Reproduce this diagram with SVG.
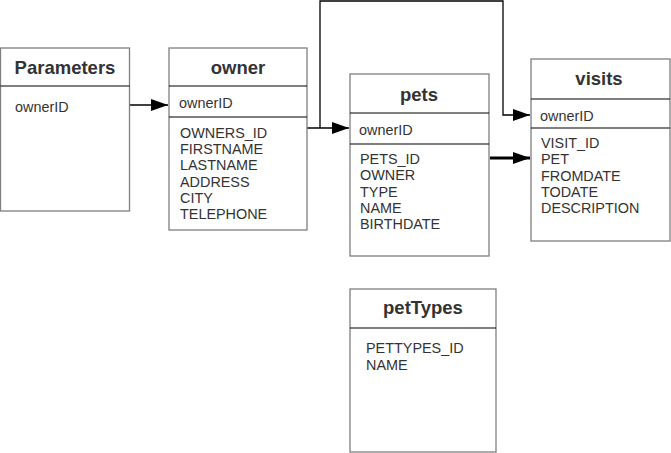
<svg xmlns="http://www.w3.org/2000/svg" width="671" height="453" viewBox="0 0 671 453">
<style>
.box{fill:#fff;stroke:#7f7f7f;stroke-width:1.3}
.div{stroke:#000;stroke-width:1.2}
.title{font-family:"Liberation Sans",Arial,sans-serif;font-size:18.5px;font-weight:bold;fill:#333;text-anchor:middle}
.f{font-family:"Liberation Sans",Arial,sans-serif;font-size:14.4px;fill:#333}
.c{fill:none;stroke:#000;stroke-width:1.3}
.ct{fill:none;stroke:#000;stroke-width:3}
</style>
<defs>
<marker id="ah" markerWidth="17" markerHeight="12" refX="17" refY="6" orient="auto" markerUnits="userSpaceOnUse">
<path d="M0,0 L17,6 L0,12 z" fill="#000"/>
</marker>
</defs>
<rect width="671" height="453" fill="#fff"/>
<g id="connectors">
<path class="c" d="M130,105 H168" marker-end="url(#ah)"/>
<path class="c" d="M307,128 H349" marker-end="url(#ah)"/>
<path class="c" d="M320,128 V1 H503 V115 H530" marker-end="url(#ah)"/>
<path class="ct" d="M490,158 H530" marker-end="url(#ah)"/>
</g>
<g id="Parameters">
<rect class="box" x="0.5" y="48" width="129" height="163"/>
<line class="div" x1="0.5" y1="86" x2="129.5" y2="86"/>
<text class="title" x="65" y="74">Parameters</text>
<text class="f" x="15" y="112">ownerID</text>
</g>
<g id="owner">
<rect class="box" x="169" y="48" width="138" height="182"/>
<line class="div" x1="169" y1="86" x2="307" y2="86"/>
<line class="div" x1="169" y1="117" x2="307" y2="117"/>
<text class="title" x="238" y="74">owner</text>
<text class="f" x="179" y="108">ownerID</text>
<text class="f" x="180" y="138">OWNERS_ID</text>
<text class="f" x="180" y="154">FIRSTNAME</text>
<text class="f" x="180" y="170">LASTNAME</text>
<text class="f" x="180" y="187">ADDRESS</text>
<text class="f" x="180" y="203">CITY</text>
<text class="f" x="180" y="219">TELEPHONE</text>
</g>
<g id="pets">
<rect class="box" x="350" y="74" width="139" height="182"/>
<line class="div" x1="350" y1="113" x2="489" y2="113"/>
<line class="div" x1="350" y1="144" x2="489" y2="144"/>
<text class="title" x="419" y="101">pets</text>
<text class="f" x="359" y="135">ownerID</text>
<text class="f" x="360" y="164">PETS_ID</text>
<text class="f" x="360" y="180">OWNER</text>
<text class="f" x="360" y="197">TYPE</text>
<text class="f" x="360" y="213">NAME</text>
<text class="f" x="360" y="229">BIRTHDATE</text>
</g>
<g id="visits">
<rect class="box" x="531" y="59" width="139" height="182"/>
<line class="div" x1="531" y1="99" x2="670" y2="99"/>
<line class="div" x1="531" y1="128" x2="670" y2="128"/>
<text class="title" x="599" y="85">visits</text>
<text class="f" x="540" y="121">ownerID</text>
<text class="f" x="541" y="148">VISIT_ID</text>
<text class="f" x="541" y="164">PET</text>
<text class="f" x="541" y="181">FROMDATE</text>
<text class="f" x="541" y="197">TODATE</text>
<text class="f" x="541" y="213">DESCRIPTION</text>
</g>
<g id="petTypes">
<rect class="box" x="350" y="289" width="146" height="163"/>
<line class="div" x1="350" y1="328" x2="496" y2="328"/>
<text class="title" x="423" y="314">petTypes</text>
<text class="f" x="366" y="353">PETTYPES_ID</text>
<text class="f" x="366" y="370">NAME</text>
</g>
</svg>
